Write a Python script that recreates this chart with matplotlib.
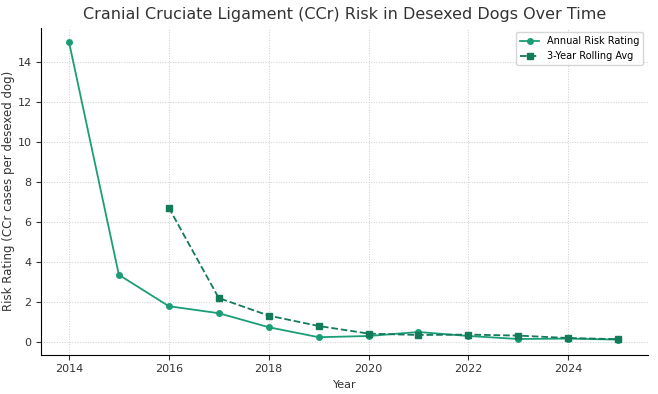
import matplotlib.pyplot as plt

# values
years = [2014, 2015, 2016, 2017, 2018, 2019, 2020, 2021, 2022, 2023, 2024, 2025]
annual_risk = [15.0, 3.34, 1.77, 1.42, 0.72, 0.22, 0.28, 0.48, 0.28, 0.13, 0.15, 0.10]
rolling_years = [2016, 2017, 2018, 2019, 2020, 2021, 2022, 2023, 2024, 2025]
rolling_avg = [6.70, 2.18, 1.30, 0.78, 0.40, 0.33, 0.35, 0.30, 0.18, 0.12]

fig, ax = plt.subplots(figsize=(6.58, 3.94), dpi=100)

ax.plot(years, annual_risk, marker='o', markersize=4, linewidth=1.3,
        color='#1b9e77', label='Annual Risk Rating')
ax.plot(rolling_years, rolling_avg, marker='s', markersize=4, linewidth=1.3,
        linestyle='--', color='#137a5a', label='3-Year Rolling Avg')

ax.set_title('Cranial Cruciate Ligament (CCr) Risk in Desexed Dogs Over Time',
             fontsize=11.5, color='#333333')
ax.set_xlabel('Year', fontsize=8, color='#333333')
ax.set_ylabel('Risk Rating (CCr cases per desexed dog)', fontsize=8.5,
              color='#333333', labelpad=2)
ax.set_xticks([2014, 2016, 2018, 2020, 2022, 2024])
ax.set_yticks([0, 2, 4, 6, 8, 10, 12, 14])
ax.set_xlim(2013.45, 2025.6)
ax.set_ylim(-0.65, 15.7)
ax.tick_params(labelsize=8, colors='#333333')

ax.grid(True, linestyle=':', linewidth=0.7, color='#cccccc')
ax.spines['top'].set_visible(False)
ax.spines['right'].set_visible(False)
ax.legend(fontsize=7, loc='upper right')

fig.subplots_adjust(left=0.063, right=0.985, top=0.93, bottom=0.10)
fig.savefig('out.png')
